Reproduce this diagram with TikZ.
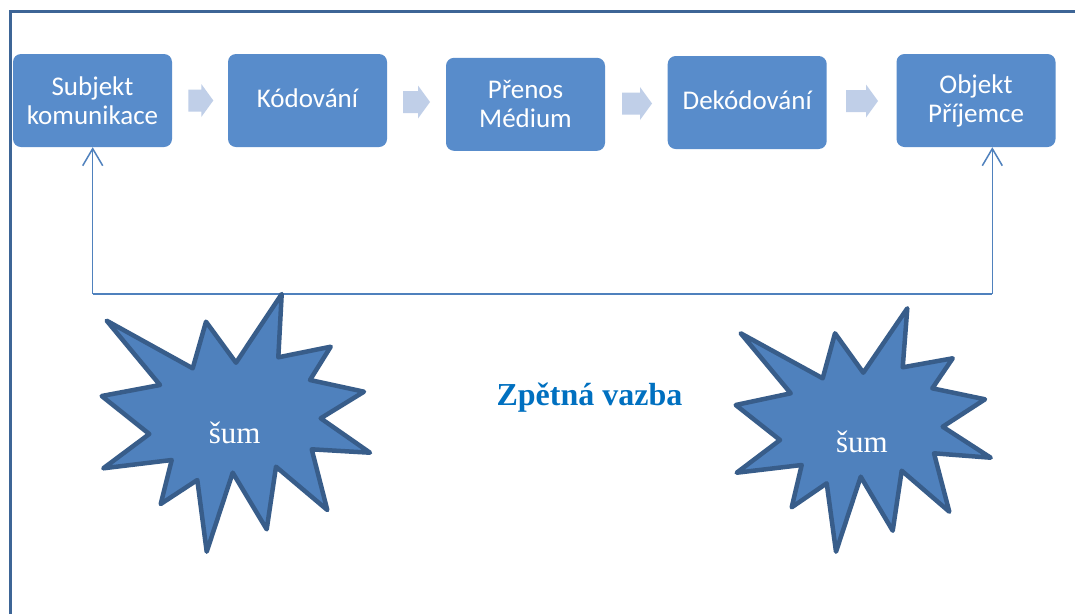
\documentclass[tikz,border=0pt]{standalone}
\usepackage{fontspec}
\setmainfont{Liberation Serif}
\newfontfamily\boxfont{Carlito}
\usetikzlibrary{arrows.meta}
\definecolor{boxfill}{RGB}{88,140,203}
\definecolor{starfill}{RGB}{79,129,189}
\definecolor{stardraw}{RGB}{56,93,138}
\definecolor{arrowfill}{RGB}{192,207,232}
\definecolor{fbline}{RGB}{79,129,189}
\definecolor{framecol}{RGB}{61,101,150}
\definecolor{titlecol}{RGB}{0,112,192}
\tikzset{
  stepbox/.style={fill=boxfill, rounded corners=8pt, minimum width=159pt, minimum height=93pt,
    inner sep=0pt, text=white, align=center, font=\boxfont\fontsize{27}{29}\selectfont},
  oneline/.style={text height=13pt, text depth=0pt},
  fb/.style={draw=fbline, line width=1.5pt},
  fbarrow/.style={fb, -{Straight Barb[length=17pt,width=20pt,line width=1.5pt]}},
  star/.style={fill=starfill, draw=stardraw, line width=4.5pt, line join=round},
  startext/.style={text=white, font=\fontsize{31}{36}\selectfont, anchor=base, inner sep=0pt},
  pics/barrow/.style={code={
    \fill[arrowfill] (-#1/2,-11) -- (#1/2-12,-11) -- (#1/2-12,-16.5) -- (#1/2,0)
      -- (#1/2-12,16.5) -- (#1/2-12,11) -- (-#1/2,11) -- cycle;}}
}
\begin{document}
\begin{tikzpicture}[x=1pt,y=-1pt]
\useasboundingbox (0,0) rectangle (1075,614);
\fill[white] (0,0) rectangle (1075,614);
% frame
\draw[framecol, line width=2.8pt] (10.7,614) -- (10.7,11.3) -- (1075,11.3);
% boxes
\node[stepbox] (b1) at (92.5,100.5) {Subjekt\\komunikace};
\node[stepbox, oneline] (b2) at (307.5,100.5) {Kódování};
\node[stepbox] (b3) at (525.5,104.3) {Přenos\\Médium};
\node[stepbox, oneline] (b4) at (747.2,102.5) {Dekódování};
\node[stepbox] (b5) at (976,100.5) {Objekt\\Příjemce};
% block arrows
\pic (a1) at (200.8,100.5) {barrow=25};
\pic (a2) at (416.5,102) {barrow=27};
\pic (a3) at (637,103.5) {barrow=30};
\pic (a4) at (862,101) {barrow=32};
% feedback
\coordinate (cL) at (92.7,294);
\coordinate (cR) at (992.3,294);
\draw[fb] (cL) -- (cR);
\draw[fbarrow] (cL) -- (cL |- b1.south);
\draw[fbarrow] (cR) -- (cR |- b5.south);
% stars
\draw[star] (281.7,294) -- (278.3,357.3) -- (330.7,346.7) -- (310,380) -- (364,391.7) -- (320.7,418.3)
 -- (370,452.7) -- (311.7,449.3) -- (327.3,510) -- (276,466.7) -- (266.7,529.3) -- (232.7,472.7)
 -- (206.7,551.7) -- (197.3,480) -- (160.7,504) -- (171.7,460) -- (103.3,468.3) -- (149.3,434)
 -- (101.7,396) -- (160,385) -- (106.7,320.7) -- (192.7,368.3) -- (206,321.7) -- (236,362.7) -- cycle;
\node[startext] (s1) at (234.7,443.3) {šum};
\draw[star] (907.3,308.3) -- (902.7,367.3) -- (952.7,358.3) -- (932.3,388.3) -- (985,399.3) -- (942.7,426.7)
 -- (990.7,457.7) -- (934,453.3) -- (949.3,511.7) -- (901.7,470.7) -- (892.7,530.7) -- (860.7,476.7)
 -- (836,551.7) -- (826.7,483.3) -- (791.7,507.3) -- (801.7,465) -- (736.7,472.7) -- (780,440)
 -- (735.7,405) -- (790.7,393.3) -- (740.7,333.3) -- (822.7,378.3) -- (835,333.3) -- (863.3,372.7) -- cycle;
\node[startext] (s2) at (862,452.7) {šum};
% title
\node[anchor=base, inner sep=0pt, text=titlecol, font=\bfseries\fontsize{32}{38}\selectfont] (zv) at (589.5,405) {Zpětná vazba};
\end{tikzpicture}
\end{document}
